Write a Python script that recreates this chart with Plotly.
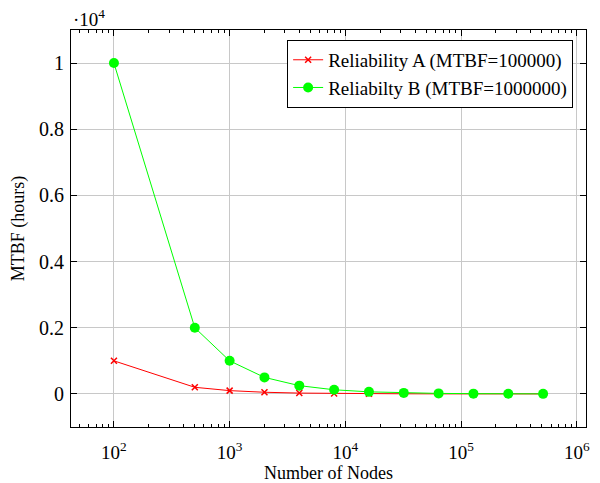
import plotly.graph_objects as go

nodes = [100, 500, 1000, 2000, 4000, 8000, 16000, 32000, 64000, 128000, 256000, 512000]
mtbf_a = [1000, 200, 100, 50, 25, 12.5, 6.25, 3.125, 1.5625, 0.78125, 0.390625, 0.1953125]
mtbf_b = [10000, 2000, 1000, 500, 250, 125, 62.5, 31.25, 15.625, 7.8125, 3.90625, 1.953125]
names = ["Reliability A (MTBF=100000)", "Reliabilty B (MTBF=1000000)"]
y_ticks = [0, 2000, 4000, 6000, 8000, 10000]
y_tick_labels = ["0", "0.2", "0.4", "0.6", "0.8", "1"]
x_ticks = [100, 1000, 10000, 100000, 1000000]
x_tick_labels = ["10<sup>2</sup>", "10<sup>3</sup>", "10<sup>4</sup>", "10<sup>5</sup>", "10<sup>6</sup>"]
x_minor = [m * 10 ** e for e in range(1, 6) for m in range(2, 10)]

font = "Liberation Serif"
x_range = [1.629, 6.08]

fig = go.Figure()
fig.add_trace(go.Scatter(x=nodes, y=mtbf_a, name=names[0], mode="lines+markers",
                         line=dict(color="#ff0000", width=1),
                         marker=dict(symbol="x-thin", size=6, color="#ff0000",
                                     line=dict(color="#ff0000", width=1.5))))
fig.add_trace(go.Scatter(x=nodes, y=mtbf_b, name=names[1], mode="lines+markers",
                         line=dict(color="#00ff00", width=1),
                         marker=dict(symbol="circle", size=10, color="#00ff00")))
# invisible helper trace so the mirrored top axis (with minor ticks) is drawn
fig.add_trace(go.Scatter(x=nodes, y=mtbf_a, xaxis="x2", mode="markers",
                         marker=dict(opacity=0), showlegend=False, hoverinfo="skip"))

fig.update_layout(
    width=592, height=475,
    margin=dict(l=63, r=14, t=22, b=56, autoexpand=False),
    paper_bgcolor="white", plot_bgcolor="white",
    font=dict(family=font, size=18, color="black"),
    legend=dict(x=0.975, y=0.975, xanchor="right", yanchor="top",
                bordercolor="black", borderwidth=1, bgcolor="white",
                font=dict(family=font, size=19), tracegroupgap=0,
                itemwidth=30),
    showlegend=True,
    annotations=[dict(text="·10<sup>4</sup>", xref="paper", yref="paper",
                      x=0, y=1, xanchor="left", yanchor="bottom", yshift=-2,
                      showarrow=False, font=dict(family=font, size=19))],
    xaxis=dict(type="log", range=x_range, automargin=False,
               tickvals=x_ticks, ticktext=x_tick_labels,
               showline=True, linecolor="black", linewidth=1, mirror=True,
               ticks="inside", ticklen=6, tickcolor="black",
               showgrid=True, gridcolor="#c8c8c8", gridwidth=1,
               zeroline=False, ticklabelstandoff=8,
               minor=dict(tickvals=x_minor, ticks="inside", ticklen=3,
                          tickcolor="black", showgrid=False),
               title=dict(text="Number of Nodes", font=dict(family=font, size=18), standoff=4),
               tickfont=dict(family=font, size=19)),
    xaxis2=dict(type="log", range=x_range, overlaying="x", side="top",
                automargin=False, showticklabels=False, showgrid=False,
                zeroline=False, tickvals=x_ticks, ticks="inside", ticklen=6,
                tickcolor="black",
                minor=dict(tickvals=x_minor, ticks="inside", ticklen=3,
                           tickcolor="black", showgrid=False)),
    yaxis=dict(range=[-1000, 11000], automargin=False,
               tickvals=y_ticks, ticktext=y_tick_labels,
               showline=True, linecolor="black", linewidth=1, mirror="ticks",
               ticks="inside", ticklen=6, tickcolor="black",
               showgrid=True, gridcolor="#c8c8c8", gridwidth=1,
               zeroline=False, ticklabelstandoff=2,
               title=dict(text="MTBF (hours)", font=dict(family=font, size=18), standoff=14),
               tickfont=dict(family=font, size=20)),
)

fig.write_html("out.html")
